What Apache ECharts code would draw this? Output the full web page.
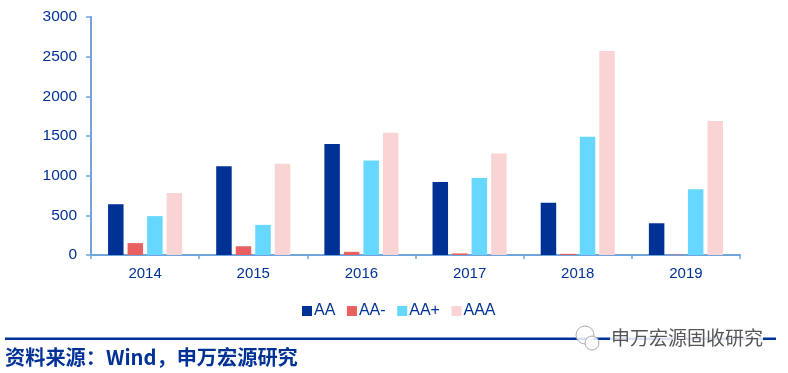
<!DOCTYPE html>
<html><head><meta charset="utf-8">
<style>html,body{margin:0;padding:0;background:#fff}#c{width:788px;height:373px}</style>
<script src="https://cdn.jsdelivr.net/npm/echarts@6/dist/echarts.min.js"></script>
</head><body><div id="c"></div>
<script>
const categories = ['2014','2015','2016','2017','2018','2019'];
const seriesNames = ['AA','AA-','AA+','AAA'];
const aa = [640,1120,1400,920,660,400];
const aaMinus = [150,110,40,20,15,5];
const aaPlus = [490,380,1190,970,1490,830];
const aaa = [780,1150,1540,1280,2570,1690];
const colors = ['#003296','#E86060','#66D7FF','#FAD4D4'];
const sourceText = '资料来源：Wind，申万宏源研究';
const watermarkText = '申万宏源固收研究';
const textColor = '#003296', axisColor = '#6FA5DC';
const font = '"Liberation Sans", Arial, sans-serif';
const chart = echarts.init(document.getElementById('c'), null, {renderer:'canvas'});
const mk = (i,d)=>({name:seriesNames[i],type:'bar',data:d,barWidth:15.5,barGap:'26%',
  itemStyle:{color:colors[i]},emphasis:{disabled:true}});
chart.setOption({
  animation:false,
  grid:{left:91,right:48,top:17,bottom:118,containLabel:false},
  legend:{top:298,left:297,itemWidth:10,itemHeight:10,itemGap:11.6,icon:'rect',
    textStyle:{color:textColor,fontFamily:font,fontSize:16,padding:[0,0,0,-3]},data:seriesNames},
  xAxis:{type:'category',data:categories,
    axisLine:{lineStyle:{color:axisColor,width:2}},
    axisTick:{show:true,length:4,alignWithLabel:false,lineStyle:{color:axisColor,width:1.5}},
    axisLabel:{color:textColor,fontFamily:font,fontSize:15,margin:11}},
  yAxis:{type:'value',min:0,max:3000,interval:500,
    axisLine:{show:true,lineStyle:{color:axisColor,width:2}},
    axisTick:{show:true,length:5,lineStyle:{color:axisColor,width:1.5}},
    splitLine:{show:false},
    axisLabel:{color:textColor,fontFamily:font,fontSize:15.5,margin:14,formatter:v=>String(v)}},
  series:[mk(0,aa),mk(1,aaMinus),mk(2,aaPlus),mk(3,aaa)],
  graphic:[
    {type:'rect',silent:true,shape:{x:5,y:337.5,width:771,height:2.5},style:{fill:'#003296'}},
    {type:'text',silent:true,style:{x:5,y:347,text:sourceText,fill:'#003296',
      font:'bold 20.2px "Noto Sans CJK SC", sans-serif'}},
    {type:'rect',silent:true,shape:{x:610,y:328,width:153,height:22},style:{fill:'rgba(255,255,255,0.85)'}},
    {type:'text',silent:true,style:{x:611,y:328,text:watermarkText,fill:'#555',stroke:'#fff',lineWidth:0.5,
      font:'19px "Noto Sans CJK SC", sans-serif'}},
    {type:'circle',silent:true,shape:{cx:585,cy:335,r:9},style:{fill:'rgba(255,255,255,0.85)',stroke:'#aaa',lineWidth:1}},
    {type:'circle',silent:true,shape:{cx:592,cy:343,r:7},style:{fill:'rgba(255,255,255,0.85)',stroke:'#aaa',lineWidth:1}}
  ]
});
</script></body></html>
